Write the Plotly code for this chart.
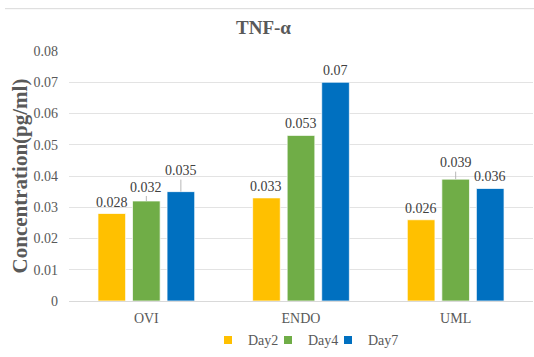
import plotly.graph_objects as go

categories = ["OVI", "ENDO", "UML"]
series_names = ["Day2", "Day4", "Day7"]
day2 = [0.028, 0.033, 0.026]
day4 = [0.032, 0.053, 0.039]
day7 = [0.035, 0.07, 0.036]
y_ticks = [0, 0.01, 0.02, 0.03, 0.04, 0.05, 0.06, 0.07, 0.08]
y_tick_labels = ["0", "0.01", "0.02", "0.03", "0.04", "0.05", "0.06", "0.07", "0.08"]

colors = ["#FFC000", "#70AD47", "#0070C0"]
FONT = "Liberation Serif"

W, H = 534, 357
ML, MR, MT, MB = 69, 1, 51, 52
BARGAP = 0.33

# label placement (pixel raise above bar top) and whether a leader line is drawn
label_raise = [[11.5, 14, 21], [11.5, 12, 11.5], [11.5, 16.5, 12]]
leader = [[False, True, True], [False, False, False], [False, True, False]]
legend_entry_w = [15, 15, 32]

fig = go.Figure()
all_series = [day2, day4, day7]
for name, vals, col, lw in zip(series_names, all_series, colors, legend_entry_w):
    fig.add_trace(go.Bar(
        x=categories, y=vals, name=name, showlegend=False,
        marker=dict(color=col, line=dict(color="rgba(255,255,255,0.7)", width=1)),
    ))
    fig.add_trace(go.Scatter(
        x=[None], y=[None], mode="markers", name=name, legendwidth=lw,
        marker=dict(symbol="square", size=8, color=col),
    ))

plot_w = W - ML - MR
plot_h = H - MT - MB
cat_w = plot_w / len(categories)
slot = cat_w * (1 - BARGAP) / 3
annotations = []
for si, vals in enumerate(all_series):
    dx = (si - 1) * slot
    for ci, v in enumerate(vals):
        r = label_raise[ci][si]
        if leader[ci][si]:
            annotations.append(dict(
                x=categories[ci], y=v, xref="x", yref="y", text=str(v),
                showarrow=True, arrowhead=0, arrowwidth=0.8, arrowcolor="#a6a6a6",
                ax=0, ay=-r, standoff=0, xshift=dx,
                font=dict(family=FONT, size=14, color="#404040"),
            ))
        else:
            annotations.append(dict(
                x=categories[ci], y=v, xref="x", yref="y", text=str(v),
                showarrow=False, yanchor="middle", yshift=r, xshift=dx,
                font=dict(family=FONT, size=14, color="#404040"),
            ))

annotations.append(dict(
    text="<b>TNF-α</b>", xref="paper", yref="paper",
    x=(263 - ML) / plot_w, y=(H - MB - 27) / plot_h,
    showarrow=False, xanchor="center", yanchor="middle",
    font=dict(family=FONT, size=19, color="#595959"),
))

fig.update_layout(
    width=W, height=H,
    margin=dict(l=ML, r=MR, t=MT, b=MB, pad=0),
    paper_bgcolor="white", plot_bgcolor="white",
    barmode="group", bargap=BARGAP, bargroupgap=0.2,
    font=dict(family=FONT, size=14, color="#595959"),
    annotations=annotations,
    legend=dict(orientation="h", x=(208 - ML) / plot_w, xanchor="left",
                y=(H - MB - 345) / plot_h, yanchor="middle",
                font=dict(family=FONT, size=14, color="#595959"),
                itemwidth=30, tracegroupgap=0, bgcolor="rgba(0,0,0,0)"),
    shapes=[dict(type="line", xref="paper", yref="paper",
                 x0=(5 - ML) / plot_w, x1=1.01, y0=(H - MB - 8) / plot_h,
                 y1=(H - MB - 8) / plot_h,
                 line=dict(color="#d9d9d9", width=1))],
)
fig.update_xaxes(showgrid=False, showline=True, linecolor="#d9d9d9", linewidth=1,
                 ticks="", ticklabelstandoff=4,
                 tickfont=dict(family=FONT, size=14, color="#595959"))
fig.update_yaxes(range=[0, 0.08], tickvals=y_ticks, ticktext=y_tick_labels,
                 showgrid=True, gridcolor="#e3e3e3", gridwidth=1, zeroline=False,
                 showline=False, ticks="", ticklabelstandoff=10,
                 tickfont=dict(family=FONT, size=14, color="#595959"),
                 title=dict(text="<b>Concentration(pg/ml)</b>", standoff=0,
                            font=dict(family=FONT, size=21, color="#595959")))

fig.write_html("out.html", config={"displayModeBar": False},
               post_script="document.body.style.margin='0';document.body.style.overflow='hidden';")
